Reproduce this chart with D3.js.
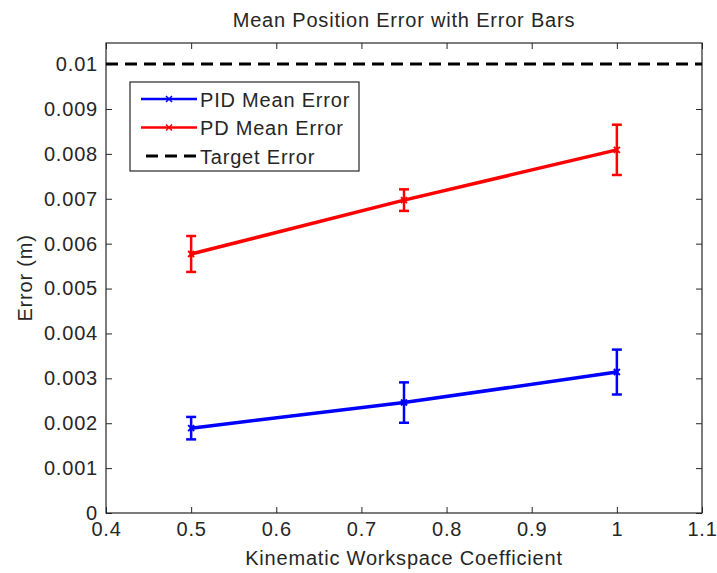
<!DOCTYPE html>
<html>
<head>
<meta charset="utf-8">
<script src="https://cdn.jsdelivr.net/npm/d3@7"></script>
<style>
  html, body { margin: 0; padding: 0; background: #fff; }
  text { font-family: "Liberation Sans", Arial, Helvetica, sans-serif; fill: #262626; letter-spacing: 0.8px; }
</style>
</head>
<body>
<svg id="chart" width="717" height="573"></svg>
<script>
// Workspace coefficients (x) and mean errors with symmetric error bars
const coefficients = [0.5, 0.75, 1.0];
const pidMean = [0.00189, 0.00246, 0.00314];
const pidErr  = [0.00025, 0.00045, 0.00050];
const pdMean  = [0.00577, 0.00697, 0.00809];
const pdErr   = [0.00040, 0.00024, 0.00056];
const targetError = 0.01;

const xTicks = [0.4, 0.5, 0.6, 0.7, 0.8, 0.9, 1.0, 1.1];
const yTicks = [0, 0.001, 0.002, 0.003, 0.004, 0.005, 0.006, 0.007, 0.008, 0.009, 0.01];

const series = [
  { name: "PID Mean Error", color: "#0000ff", mean: pidMean, err: pidErr },
  { name: "PD Mean Error",  color: "#ff0000", mean: pdMean,  err: pdErr }
];

const svg = d3.select("#chart");
const margin = { left: 106, right: 15, top: 43, bottom: 60 };
const W = 717, H = 573;
const x0 = margin.left, x1 = W - margin.right, y0 = margin.top, y1 = H - margin.bottom;

const x = d3.scaleLinear().domain([0.4, 1.1]).range([x0, x1]);
const y = d3.scaleLinear().domain([0, 0.01047]).range([y1, y0]);

const fmt = v => v === 0 ? "0" : d3.format("~g")(+v.toFixed(4));
const tickColor = "#262626";

// Axes: ticks point inward, mirrored on top and right
const axB = d3.axisBottom(x).tickValues(xTicks).tickSize(-6).tickPadding(9).tickFormat(d => d3.format("~g")(d));
const axL = d3.axisLeft(y).tickValues(yTicks).tickSize(-6).tickPadding(8).tickFormat(fmt);
const axT = d3.axisTop(x).tickValues(xTicks).tickSize(-6).tickFormat("");
const axR = d3.axisRight(y).tickValues(yTicks).tickSize(-6).tickFormat("");

function styleAxis(g) {
  g.select(".domain").remove();
  g.selectAll(".tick line").attr("stroke", tickColor).attr("stroke-width", 1);
  g.selectAll(".tick text").style("font-size", "20px").style("font-family", "Liberation Sans, Arial, sans-serif").attr("fill", "#262626");
}

svg.append("g").attr("transform", `translate(0,${y1})`).call(axB).call(styleAxis);
svg.append("g").attr("transform", `translate(${x0},0)`).call(axL).call(styleAxis);
svg.append("g").attr("transform", `translate(0,${y0})`).call(axT).call(styleAxis);
svg.append("g").attr("transform", `translate(${x1},0)`).call(axR).call(styleAxis);

// Axes box
svg.append("rect")
  .attr("x", x0).attr("y", y0).attr("width", x1 - x0).attr("height", y1 - y0)
  .attr("fill", "none").attr("stroke", tickColor).attr("stroke-width", 1.2);

// Target error line
svg.append("line")
  .attr("x1", x0).attr("x2", x1)
  .attr("y1", y(targetError)).attr("y2", y(targetError))
  .attr("stroke", "#000").attr("stroke-width", 3).attr("stroke-dasharray", "12,7");

const line = d3.line().x(d => x(d.x)).y(d => y(d.y));

series.forEach(s => {
  const pts = coefficients.map((c, i) => ({ x: c, y: s.mean[i], e: s.err[i] }));
  const g = svg.append("g");
  g.append("path").datum(pts).attr("d", line)
    .attr("fill", "none").attr("stroke", s.color).attr("stroke-width", 3.5);
  // Error bars with caps
  pts.forEach(p => {
    const cx = x(p.x), yt = y(p.y + p.e), yb = y(p.y - p.e);
    g.append("line").attr("x1", cx).attr("x2", cx).attr("y1", yt).attr("y2", yb)
      .attr("stroke", s.color).attr("stroke-width", 2.5);
    [yt, yb].forEach(yy => {
      g.append("line").attr("x1", cx - 5).attr("x2", cx + 5).attr("y1", yy).attr("y2", yy)
        .attr("stroke", s.color).attr("stroke-width", 2.5);
    });
    // x marker
    const m = 3;
    g.append("path")
      .attr("d", `M${cx - m},${y(p.y) - m}L${cx + m},${y(p.y) + m}M${cx - m},${y(p.y) + m}L${cx + m},${y(p.y) - m}`)
      .attr("stroke", s.color).attr("stroke-width", 2);
  });
});

// Title and axis labels
svg.append("text").attr("x", (x0 + x1) / 2).attr("y", 27).attr("text-anchor", "middle")
  .style("font-size", "20px").text("Mean Position Error with Error Bars");
svg.append("text").attr("x", (x0 + x1) / 2).attr("y", 565).attr("text-anchor", "middle")
  .style("font-size", "20px").text("Kinematic Workspace Coefficient");
svg.append("text").attr("transform", `translate(32,${(y0 + y1) / 2}) rotate(-90)`).attr("text-anchor", "middle")
  .style("font-size", "20px").text("Error (m)");

// Legend
const lg = svg.append("g");
lg.append("rect").attr("x", 130).attr("y", 82).attr("width", 229).attr("height", 89)
  .attr("fill", "#fff").attr("stroke", tickColor).attr("stroke-width", 1.2);
const legendItems = [
  { name: series[0].name, color: series[0].color, dash: null, marker: true },
  { name: series[1].name, color: series[1].color, dash: null, marker: true },
  { name: "Target Error", color: "#000", dash: "12,7", marker: false }
];
legendItems.forEach((it, i) => {
  const ly = 99 + i * 28.5;
  const lx0 = it.dash ? 146 : 141;
  lg.append("line").attr("x1", lx0).attr("x2", 197).attr("y1", ly).attr("y2", ly)
    .attr("stroke", it.color).attr("stroke-width", it.dash ? 3 : 2.5)
    .attr("stroke-dasharray", it.dash);
  if (it.marker) {
    const m = 3, cx = 169;
    lg.append("path").attr("d", `M${cx - m},${ly - m}L${cx + m},${ly + m}M${cx - m},${ly + m}L${cx + m},${ly - m}`)
      .attr("stroke", it.color).attr("stroke-width", 1.5);
  }
  lg.append("text").attr("x", 200).attr("y", ly + 7.5).style("font-size", "20px").text(it.name);
});
</script>
</body>
</html>
